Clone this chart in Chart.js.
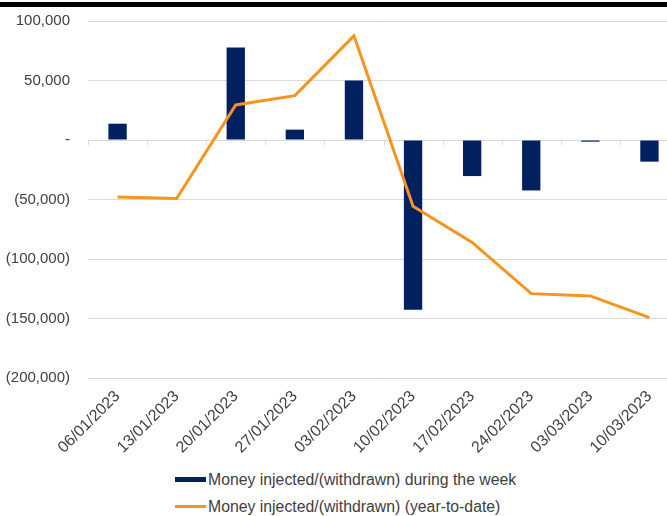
<!DOCTYPE html>
<html>
<head>
<meta charset="utf-8">
<script src="https://cdn.jsdelivr.net/npm/chart.js@4/dist/chart.umd.min.js"></script>
<style>
    body { margin: 0; width: 667px; height: 516px; overflow: hidden; background: #fff; font-family: "Liberation Sans", Arial, sans-serif; }
    .top-rule { position: absolute; left: 0; top: 2px; width: 667px; height: 5px; background: #000; }
    .chart-box { position: absolute; left: 0; top: 0; width: 680px; height: 462px; }
    .legend { position: absolute; left: 175px; top: 466px; font-size: 15.8px; color: #404040; }
    .legend div { display: flex; align-items: center; height: 27px; }
    .legend span.swatch { display: inline-block; width: 31px; margin-right: 2px; }
</style>
</head>
<body>
<div class="top-rule"></div>
<div class="chart-box"><canvas id="flowChart"></canvas></div>
<div class="legend">
    <div><span class="swatch" style="height:5px;background:#002060"></span>Money injected/(withdrawn) during the week</div>
    <div><span class="swatch" style="height:3px;background:#F7941D"></span>Money injected/(withdrawn) (year-to-date)</div>
</div>
<script>
// Semanas (sextas-feiras)
const weeks = ['06/01/2023', '13/01/2023', '20/01/2023', '27/01/2023', '03/02/2023',
               '10/02/2023', '17/02/2023', '24/02/2023', '03/03/2023', '10/03/2023'];

// Valor semanal (barras)
const weekly = [13700, 0, 77700, 8700, 49900, -142600, -30300, -42400, -1400, -18200];

// Acumulado no ano (linha)
const ytd = [-48000, -49100, 29500, 37300, 87500, -55600, -86100, -129100, -131000, -149300];

// Eixo Y
const yTicks = [100000, 50000, 0, -50000, -100000, -150000, -200000];

const fmt = v => {
    if (v === 0) return '-';
    const s = Math.abs(v).toLocaleString('en-US');
    return v < 0 ? '(' + s + ')' : s;
};

// pequenos traços no eixo zero entre as categorias
const zeroTicks = {
    id: 'zeroTicks',
    afterDatasetsDraw(chart) {
        const x = chart.scales.x, y = chart.scales.y;
        const y0 = y.getPixelForValue(0);
        const half = (x.getPixelForTick(1) - x.getPixelForTick(0)) / 2;
        const ctx = chart.ctx;
        ctx.save();
        ctx.strokeStyle = '#d9d9d9';
        ctx.lineWidth = 1;
        for (let i = 0; i < weeks.length; i++) {
            const px = Math.round(x.getPixelForTick(i) - half) + 0.5;
            ctx.beginPath();
            ctx.moveTo(px, y0);
            ctx.lineTo(px, y0 + 5);
            ctx.stroke();
        }
        ctx.restore();
    }
};

const ctx = document.getElementById('flowChart').getContext('2d');
new Chart(ctx, {
    data: {
        labels: weeks,
        datasets: [
            {
                type: 'line',
                label: 'Money injected/(withdrawn) (year-to-date)',
                data: ytd,
                borderColor: '#F7941D',
                borderWidth: 3,
                pointRadius: 0,
                tension: 0,
                order: 0
            },
            {
                type: 'bar',
                label: 'Money injected/(withdrawn) during the week',
                data: weekly,
                backgroundColor: '#002060',
                categoryPercentage: 1,
                barPercentage: 0.31,
                order: 1
            }
        ]
    },
    options: {
        responsive: true,
        maintainAspectRatio: false,
        animation: false,
        layout: { padding: { top: 21, right: 1, bottom: 0, left: 0 } },
        plugins: {
            legend: { display: false },
            tooltip: { enabled: false }
        },
        scales: {
            x: {
                offset: true,
                grid: { display: false },
                border: { display: false },
                ticks: {
                    minRotation: 45,
                    maxRotation: 45,
                    color: '#404040',
                    padding: 1,
                    font: { family: 'Liberation Sans', size: 16 }
                },
                afterFit: s => { s.height = 84; }
            },
            y: {
                min: -200000,
                max: 100000,
                afterBuildTicks: s => { s.ticks = yTicks.map(v => ({ value: v })); },
                grid: { color: '#d9d9d9', drawTicks: false },
                border: { display: false },
                ticks: {
                    color: '#404040',
                    padding: 18,
                    font: { family: 'Liberation Sans', size: 15 },
                    callback: v => fmt(v)
                },
                // o padding dos ticks empurrava o topo do gráfico para baixo
                afterFit: s => { s.width = 88; s.paddingTop = 0; s.paddingBottom = 0; }
            }
        }
    },
    plugins: [zeroTicks]
});
</script>
</body>
</html>
